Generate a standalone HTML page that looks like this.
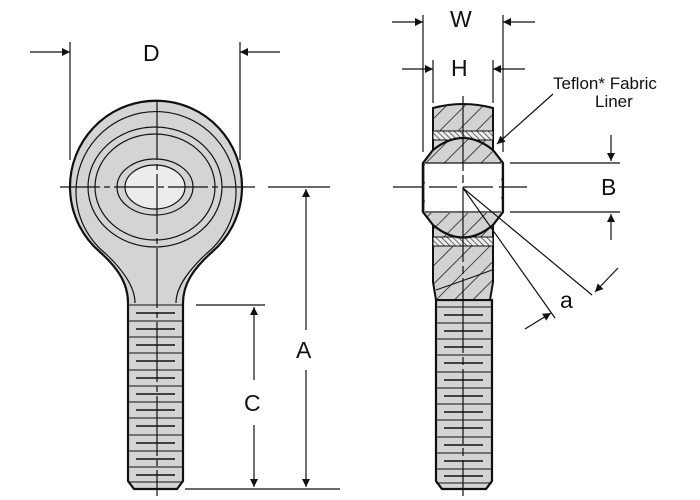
<!DOCTYPE html>
<html><head><style>html,body{margin:0;padding:0;background:#fff;width:700px;height:500px;overflow:hidden}svg{display:block}text{font-family:"Liberation Sans",sans-serif;fill:#111}</style></head>
<body>
<svg width="700" height="500" viewBox="0 0 700 500" xmlns="http://www.w3.org/2000/svg">
<defs>
<pattern id="h" width="13" height="13" patternUnits="userSpaceOnUse" patternTransform="rotate(45)">
<rect width="13" height="13" fill="#d2d2d2"/><line x1="0" y1="0" x2="0" y2="13" stroke="#222" stroke-width="1.6"/></pattern>
<pattern id="f" width="4" height="4" patternUnits="userSpaceOnUse" patternTransform="rotate(-45)">
<rect width="4" height="4" fill="#eee"/><line x1="0" y1="0" x2="0" y2="4" stroke="#222" stroke-width="1.3"/></pattern>
<marker id="ar" viewBox="0 0 10 10" refX="10" refY="5" markerWidth="10" markerHeight="8" markerUnits="userSpaceOnUse" orient="auto"><path d="M0,0 L10,5 L0,10z" fill="#111"/></marker>
</defs>
<g stroke="#111" fill="none" stroke-width="1.2">
<!-- LEFT VIEW -->
<path d="M128,303 C128,285 120,270 100,252 A86,86 0 1 1 212,252 C192,270 183,285 183,303 L183,481 L177,489 L134,489 L128,481 Z" fill="#d4d4d4" stroke-width="2.2"/>
<path d="M135,303 C135,288 125,272 106,254 A80,80 0 1 1 206,254 C187,272 176,288 176,303" stroke-width="1.2"/>
<ellipse cx="155" cy="187" rx="67" ry="60"/>
<ellipse cx="155" cy="187" rx="60" ry="53"/>
<ellipse cx="155" cy="187" rx="38" ry="28"/>
<ellipse cx="155" cy="187" rx="30" ry="22" fill="#ececec"/>
<g stroke-width="1">
<line x1="128" y1="305" x2="183" y2="305"/>
<line x1="128" y1="321" x2="183" y2="321"/><line x1="128" y1="337" x2="183" y2="337"/><line x1="128" y1="353" x2="183" y2="353"/><line x1="128" y1="370" x2="183" y2="370"/><line x1="128" y1="386" x2="183" y2="386"/><line x1="128" y1="402" x2="183" y2="402"/><line x1="128" y1="418" x2="183" y2="418"/><line x1="128" y1="435" x2="183" y2="435"/><line x1="128" y1="451" x2="183" y2="451"/><line x1="128" y1="467" x2="183" y2="467"/><line x1="128" y1="482" x2="183" y2="482"/>
</g>
<g stroke-width="1.5">
<line x1="136" y1="313" x2="175" y2="313"/><line x1="136" y1="329" x2="175" y2="329"/><line x1="136" y1="345" x2="175" y2="345"/><line x1="136" y1="361" x2="175" y2="361"/><line x1="136" y1="378" x2="175" y2="378"/><line x1="136" y1="394" x2="175" y2="394"/><line x1="136" y1="410" x2="175" y2="410"/><line x1="136" y1="426" x2="175" y2="426"/><line x1="136" y1="443" x2="175" y2="443"/><line x1="136" y1="459" x2="175" y2="459"/><line x1="136" y1="475" x2="175" y2="475"/>
</g>
<line x1="157" y1="100" x2="157" y2="496" stroke-dasharray="60,4,6,4"/>
<line x1="60" y1="187" x2="255" y2="187" stroke-dasharray="40,4,6,4"/>
<!-- D -->
<line x1="70" y1="42" x2="70" y2="160"/><line x1="240" y1="42" x2="240" y2="160"/>
<line x1="30" y1="52" x2="70" y2="52" marker-end="url(#ar)"/><line x1="280" y1="52" x2="240" y2="52" marker-end="url(#ar)"/>
<!-- A, C -->
<line x1="268" y1="187" x2="330" y2="187"/>
<line x1="196" y1="305" x2="265" y2="305"/>
<line x1="185" y1="489" x2="340" y2="489"/>
<line x1="306" y1="330" x2="306" y2="189" marker-end="url(#ar)"/><line x1="306" y1="370" x2="306" y2="487" marker-end="url(#ar)"/>
<line x1="254" y1="380" x2="254" y2="307" marker-end="url(#ar)"/><line x1="254" y1="425" x2="254" y2="487" marker-end="url(#ar)"/>

<!-- RIGHT VIEW -->
<path d="M436,300 L436,481 L442,489 L486,489 L492,481 L492,300 Z" fill="#d4d4d4" stroke-width="2.2"/>
<path d="M433,108 Q463,100 493,108 L493,282 L490,300 L436,300 L433,282 Z" fill="url(#h)" stroke-width="2"/>
<path d="M436,290 Q465,280 492,270" stroke-width="1"/>
<rect x="433" y="131" width="60" height="9" fill="url(#f)" stroke-width="1"/>
<rect x="433" y="237" width="60" height="9" fill="url(#f)" stroke-width="1"/>
<path d="M433,150 Q463,126 493,150 L503,163 L503,212 L493,225 Q463,250 433,225 L423,212 L423,163 Z" fill="url(#h)" stroke-width="2.2"/>
<rect x="425" y="163" width="76" height="50" fill="#fff" stroke="none"/>
<line x1="425" y1="163" x2="501" y2="163"/><line x1="425" y1="212" x2="501" y2="212"/>
<line x1="423" y1="163" x2="423" y2="212" stroke-width="2.4"/><line x1="503" y1="163" x2="503" y2="212" stroke-width="1.6"/>
<g stroke-width="1">
<line x1="436" y1="307" x2="492" y2="307"/><line x1="436" y1="323" x2="492" y2="323"/><line x1="436" y1="339" x2="492" y2="339"/><line x1="436" y1="355" x2="492" y2="355"/><line x1="436" y1="372" x2="492" y2="372"/><line x1="436" y1="388" x2="492" y2="388"/><line x1="436" y1="404" x2="492" y2="404"/><line x1="436" y1="420" x2="492" y2="420"/><line x1="436" y1="437" x2="492" y2="437"/><line x1="436" y1="453" x2="492" y2="453"/><line x1="436" y1="469" x2="492" y2="469"/><line x1="436" y1="483" x2="492" y2="483"/>
</g>
<g stroke-width="1.5">
<line x1="444" y1="315" x2="483" y2="315"/><line x1="444" y1="331" x2="483" y2="331"/><line x1="444" y1="347" x2="483" y2="347"/><line x1="444" y1="363" x2="483" y2="363"/><line x1="444" y1="380" x2="483" y2="380"/><line x1="444" y1="396" x2="483" y2="396"/><line x1="444" y1="412" x2="483" y2="412"/><line x1="444" y1="428" x2="483" y2="428"/><line x1="444" y1="445" x2="483" y2="445"/><line x1="444" y1="461" x2="483" y2="461"/><line x1="444" y1="476" x2="483" y2="476"/>
</g>
<line x1="463" y1="96" x2="463" y2="496" stroke-dasharray="75,4,8,4"/>
<line x1="393" y1="187" x2="532" y2="187" stroke-dasharray="30,6,28,6"/>
<!-- W, H -->
<line x1="423" y1="15" x2="423" y2="152"/><line x1="503" y1="15" x2="503" y2="152"/>
<line x1="392" y1="22" x2="423" y2="22" marker-end="url(#ar)"/><line x1="535" y1="22" x2="503" y2="22" marker-end="url(#ar)"/>
<line x1="433" y1="60" x2="433" y2="103"/><line x1="493" y1="60" x2="493" y2="103"/>
<line x1="402" y1="69" x2="433" y2="69" marker-end="url(#ar)"/><line x1="525" y1="69" x2="493" y2="69" marker-end="url(#ar)"/>
<line x1="553" y1="94" x2="497" y2="144" marker-end="url(#ar)"/>
<!-- B -->
<line x1="510" y1="163" x2="620" y2="163"/><line x1="510" y1="212" x2="620" y2="212"/>
<line x1="611" y1="135" x2="611" y2="161" marker-end="url(#ar)"/><line x1="611" y1="240" x2="611" y2="214" marker-end="url(#ar)"/>
<!-- a -->
<line x1="463" y1="188" x2="592" y2="295"/><line x1="463" y1="188" x2="555" y2="318"/>
<line x1="618" y1="268" x2="595" y2="292" marker-end="url(#ar)"/>
<line x1="525" y1="329" x2="551" y2="313" marker-end="url(#ar)"/>
</g>
<g font-size="23">
<text x="143" y="61">D</text>
<text x="296" y="358">A</text>
<text x="244" y="411">C</text>
<text x="450" y="27">W</text>
<text x="451" y="76">H</text>
<text x="601" y="195">B</text>
<text x="560" y="308">a</text>
</g>
<text x="553" y="89" font-size="17">Teflon* Fabric</text>
<text x="595" y="107" font-size="17">Liner</text>
</svg>
</body></html>
